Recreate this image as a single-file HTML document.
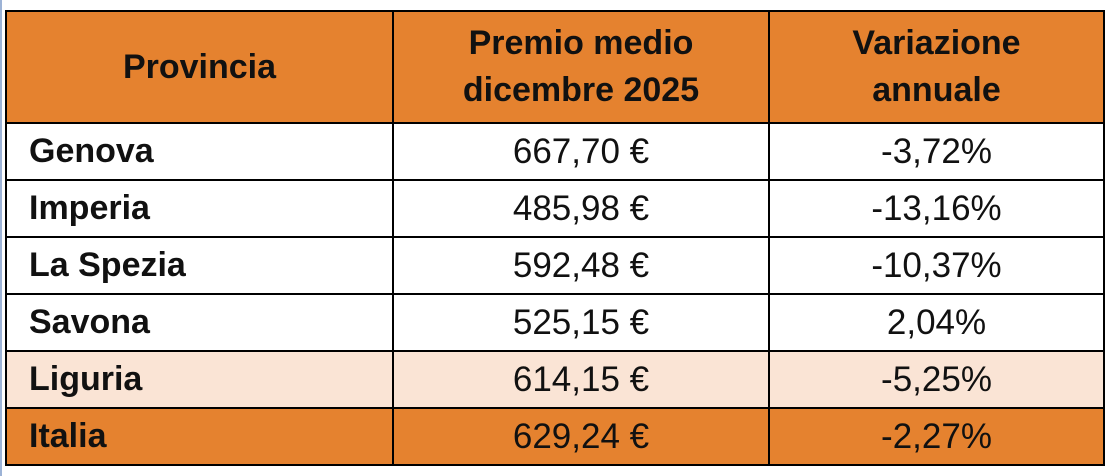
<!DOCTYPE html>
<html><head><style>
body{margin:0;width:1113px;height:476px;background:#fff;position:relative;overflow:hidden;font-family:"Liberation Sans",sans-serif}
.bl{position:absolute;left:0;top:0;width:2px;height:476px;background:#9db3d6}
table{position:absolute;left:5px;top:10px;border-collapse:collapse;width:1098px;table-layout:fixed}
td,th{border:2px solid #000;padding:0;color:#111}
th{background:#E5822F;height:110px;font-weight:bold;font-size:34px;line-height:47px}
td{height:55px;text-align:center;font-size:35px;line-height:55px}
td:first-child{text-align:left;padding-left:22px;font-weight:bold;font-size:34px}
tr.l td{background:#FAE4D5}
tr.i td{background:#E5822F}
</style></head><body>
<div class="bl"></div>
<table>
<colgroup><col style="width:387px"><col style="width:376px"><col style="width:335px"></colgroup>
<tr><th>Provincia</th><th>Premio medio<br>dicembre 2025</th><th>Variazione<br>annuale</th></tr>
<tr><td>Genova</td><td>667,70 €</td><td>-3,72%</td></tr>
<tr><td>Imperia</td><td>485,98 €</td><td>-13,16%</td></tr>
<tr><td>La Spezia</td><td>592,48 €</td><td>-10,37%</td></tr>
<tr><td>Savona</td><td>525,15 €</td><td>2,04%</td></tr>
<tr class="l"><td>Liguria</td><td>614,15 €</td><td>-5,25%</td></tr>
<tr class="i"><td>Italia</td><td>629,24 €</td><td>-2,27%</td></tr>
</table>
</body></html>
